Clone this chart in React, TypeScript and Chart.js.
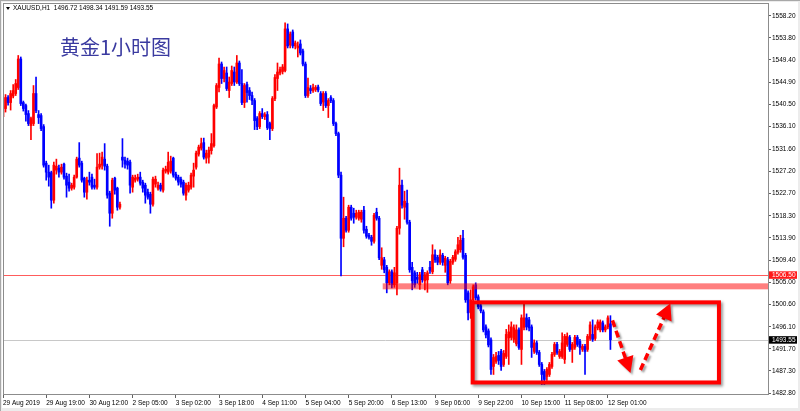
import React, { useEffect, useRef } from "react";
import { Chart, registerables } from "chart.js";

Chart.register(...registerables);

// ---- Candle data (XAUUSD H1) ----
const opens = [
  1538.1,1539.7,1541.9,1540.9,1542.2,1542.7,1543.9,1549.6,1540.9,1540.3,
  1538.7,1536.3,1536.7,1542.7,1538.5,1538.3,1536.1,1528.8,1527.0,1526.9,
  1521.4,1527.4,1527.8,1527.0,1528.6,1526.2,1525.0,1523.8,1524.0,1526.0,
  1529.8,1528.8,1525.8,1523.0,1525.4,1526.0,1524.4,1524.0,1528.0,1528.4,
  1529.6,1528.2,1522.8,1518.8,1525.8,1523.8,1520.0,1530.0,1529.4,1529.2,
  1529.0,1524.0,1525.4,1525.6,1526.0,1525.0,1524.4,1523.0,1522.6,1520.6,
  1524.6,1523.8,1524.4,1523.4,1527.2,1527.0,1527.2,1529.8,1526.6,1526.0,
  1525.6,1525.0,1522.4,1523.4,1524.0,1526.2,1528.0,1530.6,1531.8,1532.9,
  1529.8,1530.0,1531.3,1532.3,1540.0,1543.9,1548.6,1545.7,1546.8,1543.3,
  1544.7,1547.0,1545.0,1548.8,1544.7,1540.9,1544.5,1543.3,1542.3,1541.3,
  1537.7,1536.1,1538.7,1538.1,1538.5,1536.7,1535.7,1541.7,1545.7,1546.8,
  1547.1,1547.3,1555.6,1552.4,1555.0,1552.2,1551.8,1552.6,1551.2,1548.6,
  1542.3,1543.7,1543.3,1543.5,1544.0,1542.7,1541.0,1542.7,1540.3,1541.9,
  1541.3,1536.7,1534.7,1526.4,1513.8,1517.8,1515.4,1520.0,1518.8,1518.0,
  1517.8,1517.6,1519.4,1515.6,1514.4,1514.0,1513.2,1519.0,1517.8,1508.4,
  1509.5,1508.0,1504.9,1507.1,1504.5,1504.9,1515.8,1524.4,1520.0,1520.8,
  1517.0,1508.0,1506.9,1506.0,1504.5,1507.5,1505.3,1505.5,1508.0,1507.1,
  1510.5,1510.0,1509.0,1510.4,1508.4,1509.5,1505.3,1509.0,1509.6,1511.0,
  1511.5,1513.8,1510.4,1502.9,1499.0,1501.5,1504.5,1502.1,1500.3,1499.1,
  1496.1,1495.3,1493.5,1488.2,1489.2,1490.4,1491.2,1488.6,1490.2,1493.9,
  1494.0,1493.6,1492.7,1495.5,1491.6,1496.0,1497.9,1497.5,1496.1,1491.2,
  1492.9,1491.0,1488.6,1487.2,1486.2,1486.6,1488.2,1490.6,1492.6,1490.2,
  1490.2,1489.6,1492.6,1494.0,1491.6,1492.0,1494.0,1493.2,1491.6,1492.2,
  1491.6,1493.8,1494.6,1493.8,1495.9,1495.5,1496.9,1495.5,1496.1,1496.72,
];
const highs = [
  1540.6,1542.5,1542.3,1543.3,1544.5,1545.5,1550.3,1550.0,1541.2,1540.6,
  1539.3,1538.0,1544.3,1546.0,1539.3,1538.7,1536.5,1529.2,1528.4,1527.2,
  1529.0,1529.6,1528.4,1528.6,1528.8,1526.8,1526.6,1524.8,1526.4,1530.0,
  1532.9,1529.2,1526.0,1526.0,1527.0,1526.6,1525.6,1530.7,1530.8,1531.0,
  1532.7,1528.6,1523.2,1525.8,1526.0,1524.0,1521.0,1533.7,1530.0,1529.8,
  1529.4,1526.4,1526.4,1526.6,1527.0,1525.4,1524.8,1523.6,1523.0,1526.0,
  1526.2,1525.0,1524.8,1527.8,1528.2,1531.0,1530.2,1530.0,1527.0,1526.4,
  1526.0,1525.4,1524.8,1525.0,1526.8,1528.8,1531.2,1532.4,1533.8,1533.8,
  1531.4,1532.0,1534.7,1540.6,1544.7,1549.8,1549.0,1548.0,1548.0,1546.0,
  1548.2,1548.0,1550.3,1549.2,1547.5,1544.7,1545.0,1543.9,1543.0,1541.7,
  1538.1,1539.1,1539.7,1538.9,1539.1,1537.0,1542.1,1546.5,1548.8,1548.0,
  1548.5,1556.8,1556.6,1555.0,1555.4,1553.2,1553.0,1553.4,1551.6,1549.0,
  1545.8,1544.3,1544.6,1544.3,1544.4,1543.1,1543.1,1543.1,1541.7,1542.3,
  1541.7,1537.0,1535.0,1527.0,1522.0,1518.2,1520.4,1520.4,1519.8,1519.4,
  1519.4,1519.4,1520.2,1516.2,1514.8,1514.4,1518.8,1519.8,1518.2,1511.9,
  1510.0,1508.4,1507.5,1507.5,1508.0,1516.2,1527.8,1525.4,1523.2,1523.4,
  1517.4,1509.0,1507.3,1507.0,1507.0,1508.0,1507.0,1507.3,1509.2,1512.5,
  1511.5,1510.4,1511.5,1510.8,1510.2,1510.0,1509.6,1510.4,1511.5,1514.0,
  1514.4,1515.4,1510.8,1503.3,1503.5,1504.5,1504.9,1502.5,1500.7,1499.5,
  1496.5,1495.7,1493.9,1490.6,1491.0,1491.2,1491.6,1491.4,1495.6,1496.5,
  1497.1,1496.5,1496.5,1495.9,1498.5,1500.9,1498.7,1498.0,1496.5,1493.5,
  1493.3,1491.4,1489.0,1487.6,1488.0,1489.0,1491.0,1493.0,1493.0,1491.6,
  1494.9,1494.6,1494.9,1494.4,1493.0,1494.4,1494.4,1493.6,1492.6,1492.6,
  1494.6,1497.1,1497.5,1496.5,1497.5,1497.5,1497.3,1496.5,1498.3,1498.34,
];
const lows = [
  1537.6,1539.0,1540.4,1539.4,1541.8,1542.3,1543.5,1540.3,1539.2,1537.2,
  1536.3,1533.5,1536.3,1538.9,1536.7,1535.3,1528.0,1525.4,1524.2,1519.8,
  1520.8,1526.6,1526.0,1526.6,1525.6,1522.0,1523.2,1523.4,1523.6,1525.8,
  1528.0,1525.0,1522.0,1521.6,1524.4,1523.6,1523.6,1523.6,1527.6,1527.6,
  1527.4,1521.8,1516.2,1517.8,1522.6,1519.4,1519.6,1528.0,1527.8,1527.6,
  1522.8,1523.0,1525.0,1525.2,1524.4,1523.0,1520.8,1521.6,1518.8,1520.2,
  1524.0,1523.4,1523.2,1523.0,1526.8,1526.6,1526.8,1526.0,1525.4,1524.4,
  1524.0,1522.4,1521.4,1523.0,1523.6,1524.0,1527.6,1530.2,1531.4,1529.6,
  1528.8,1528.8,1530.6,1532.0,1539.7,1543.0,1544.7,1545.0,1543.3,1541.9,
  1544.3,1544.3,1544.7,1544.3,1540.5,1539.9,1541.0,1541.5,1540.5,1535.5,
  1535.5,1535.7,1537.7,1537.5,1535.5,1533.5,1535.3,1541.3,1543.3,1546.4,
  1546.6,1547.0,1551.8,1551.8,1551.8,1551.6,1550.0,1550.4,1548.2,1541.9,
  1541.9,1542.7,1542.9,1543.1,1543.0,1540.3,1539.3,1539.9,1537.9,1540.9,
  1536.3,1534.3,1525.9,1506.3,1512.1,1515.0,1515.0,1517.4,1516.8,1517.6,
  1517.4,1517.0,1514.8,1513.8,1513.6,1512.4,1512.8,1517.4,1509.5,1507.6,
  1506.9,1502.9,1504.5,1503.9,1504.0,1502.5,1514.6,1519.8,1517.6,1516.6,
  1507.0,1503.5,1504.0,1504.8,1503.6,1505.0,1503.5,1503.0,1506.8,1506.7,
  1509.0,1508.5,1508.6,1508.4,1507.0,1504.5,1504.8,1508.6,1509.2,1510.6,
  1511.0,1509.6,1501.0,1497.5,1497.8,1501.0,1501.5,1499.7,1498.9,1495.1,
  1493.9,1492.1,1486.6,1486.6,1488.8,1488.6,1487.4,1488.2,1489.8,1488.6,
  1493.5,1493.0,1492.3,1491.6,1488.6,1495.5,1495.5,1495.3,1490.0,1490.8,
  1490.6,1488.2,1484.6,1484.6,1485.4,1486.2,1487.8,1490.2,1490.6,1489.8,
  1489.8,1488.8,1492.2,1491.2,1489.0,1491.6,1492.2,1490.6,1491.2,1486.6,
  1491.2,1493.4,1493.2,1493.4,1495.5,1495.1,1495.1,1495.1,1495.7,1491.59,
];
const closes = [
  1540.2,1541.9,1540.9,1542.7,1543.3,1544.7,1549.6,1540.7,1539.7,1538.5,
  1536.7,1537.7,1542.7,1539.3,1537.9,1535.7,1528.4,1527.0,1526.0,1521.4,
  1528.4,1528.2,1527.0,1528.0,1526.0,1524.4,1523.8,1524.4,1526.0,1529.6,
  1528.4,1525.4,1523.0,1525.4,1525.0,1524.0,1524.0,1528.0,1528.6,1530.0,
  1528.2,1522.4,1518.8,1525.4,1523.4,1520.0,1520.6,1529.4,1528.6,1528.4,
  1524.4,1526.0,1525.8,1526.0,1524.8,1523.8,1522.4,1522.0,1520.6,1525.6,
  1525.6,1524.4,1523.6,1527.4,1527.6,1529.0,1529.2,1526.4,1525.8,1525.0,
  1524.6,1522.8,1524.4,1524.4,1526.4,1527.4,1530.8,1532.0,1532.7,1530.0,
  1530.8,1531.4,1532.7,1540.3,1544.3,1548.6,1545.7,1547.3,1543.7,1545.0,
  1547.3,1545.0,1548.8,1544.7,1540.9,1544.3,1542.9,1542.3,1541.3,1537.3,
  1536.1,1538.7,1538.1,1538.5,1535.9,1535.7,1541.7,1545.9,1547.0,1547.5,
  1548.0,1555.6,1552.2,1554.6,1552.2,1552.8,1552.2,1550.8,1548.6,1542.3,
  1543.9,1543.3,1543.9,1543.9,1543.4,1540.7,1542.7,1540.3,1541.3,1541.3,
  1536.7,1534.7,1526.4,1513.8,1517.8,1515.4,1520.0,1517.8,1518.0,1518.8,
  1519.0,1519.0,1515.4,1514.2,1514.0,1513.2,1518.4,1517.8,1509.9,1509.9,
  1507.5,1504.9,1507.1,1504.5,1506.9,1515.8,1524.4,1520.4,1521.2,1517.0,
  1507.5,1505.3,1504.5,1505.6,1506.5,1505.5,1506.5,1506.9,1507.4,1510.5,
  1509.5,1509.0,1510.5,1509.0,1509.8,1504.9,1509.2,1510.0,1511.1,1512.5,
  1513.4,1510.0,1501.5,1498.9,1501.5,1504.1,1501.9,1500.1,1499.3,1495.5,
  1494.5,1492.5,1487.6,1490.0,1490.2,1489.4,1488.2,1490.8,1494.6,1495.1,
  1496.1,1495.9,1495.5,1492.0,1497.9,1497.9,1496.1,1495.9,1492.0,1492.9,
  1491.0,1488.6,1486.6,1485.6,1487.6,1488.6,1490.6,1492.6,1491.0,1491.2,
  1492.9,1494.2,1494.2,1491.6,1492.6,1494.0,1492.6,1492.0,1492.2,1491.2,
  1494.2,1496.5,1493.6,1496.1,1497.1,1497.1,1495.5,1496.1,1497.9,1493.55,
];

// ---- Axes ----
const tickLabels = [
  "29 Aug 2019", "29 Aug 19:00", "30 Aug 12:00", "2 Sep 05:00", "3 Sep 02:00",
  "3 Sep 18:00", "4 Sep 11:00", "5 Sep 04:00", "5 Sep 20:00", "6 Sep 13:00",
  "9 Sep 06:00", "9 Sep 22:00", "10 Sep 15:00", "11 Sep 08:00", "12 Sep 01:00",
];
const labelStep = 17;
const slotCount = 302; // bars + empty chart shift on the right
const yTicks = [
  1558.2, 1553.8, 1549.4, 1544.9, 1540.5, 1536.1, 1531.6, 1527.2, 1522.7,
  1518.3, 1513.9, 1509.4, 1505.0, 1500.6, 1496.1, 1491.7, 1487.3, 1482.8,
];
const yRange = [1482.5, 1560.4];

// ---- Annotations (in bar index / price units) ----
const resistanceLine = 1506.5;
const bidPrice = closes[closes.length - 1];
const zonePrices = [1503.6, 1504.8];
const zoneStartBar = 149.4;
const boxBars = [184.8, 281.7];
const boxPrices = [1501.0, 1485.0];
const arrowDownBars = [239.8, 246.9];
const arrowDownPrices = [1497.4, 1486.9];
const arrowUpBars = [250.8, 262.6];
const arrowUpPrices = [1487.5, 1500.8];
const symbol = "XAUUSD,H1";
const title = "黄金1小时图";

const W = 800;
const H = 411;

export default function App() {
  const ref = useRef<HTMLCanvasElement>(null);

  useEffect(() => {
    const canvas = ref.current as HTMLCanvasElement;
    const bull = "#ff0000";
    const bear = "#0000ff";
    const colors = closes.map((c, i) => (c >= opens[i] ? bull : bear));
    const labels = Array.from({ length: slotCount }, (_, i) => String(i));
    const family = '"Liberation Sans", Arial, sans-serif';
    const small = { family, size: 6.5 };
    const isLabelled = (i: number) => i % labelStep === 0 && i / labelStep < tickLabels.length;

    const drawArrow = (c: CanvasRenderingContext2D, x1: number, y1: number, x2: number, y2: number) => {
      const dx = x2 - x1, dy = y2 - y1;
      const len = Math.hypot(dx, dy);
      const ux = dx / len, uy = dy / len;
      const head = 16, half = 8.5;
      const bx = x2 - ux * head, by = y2 - uy * head;
      c.save();
      c.shadowColor = "rgba(0,0,0,0.35)";
      c.shadowOffsetX = 2;
      c.shadowOffsetY = 2;
      c.shadowBlur = 2;
      c.strokeStyle = "#ff0000";
      c.fillStyle = "#ff0000";
      c.lineWidth = 3.5;
      c.setLineDash([7, 4]);
      c.beginPath();
      c.moveTo(x1, y1);
      c.lineTo(bx + ux * 2, by + uy * 2);
      c.stroke();
      c.setLineDash([]);
      c.beginPath();
      c.moveTo(x2, y2);
      c.lineTo(bx - uy * half, by + ux * half);
      c.lineTo(bx + uy * half, by - ux * half);
      c.closePath();
      c.fill();
      c.restore();
    };

    const overlay = {
      id: "overlay",
      beforeDraw(chart: any) {
        const c = chart.ctx as CanvasRenderingContext2D;
        c.save();
        c.fillStyle = "#ececec";
        c.fillRect(0, 0, W, H);
        c.fillStyle = "#ffffff";
        c.fillRect(2, 2, W - 4, H - 5);
        c.fillStyle = "#a8a8a8";
        c.fillRect(0, 0, W, 1);
        c.fillRect(0, 0, 1, H);
        c.restore();
      },
      beforeDatasetsDraw(chart: any) {
        const c = chart.ctx as CanvasRenderingContext2D;
        const a = chart.chartArea;
        const y = chart.scales.y;
        const hline = (v: number, color: string) => {
          const py = Math.round(y.getPixelForValue(v)) + 0.5;
          c.save();
          c.strokeStyle = color;
          c.lineWidth = 1;
          c.beginPath();
          c.moveTo(a.left, py);
          c.lineTo(a.right, py);
          c.stroke();
          c.restore();
        };
        hline(bidPrice, "#c8c8c8");
        hline(resistanceLine, "#ff5c5c");
      },
      afterDatasetsDraw(chart: any) {
        const c = chart.ctx as CanvasRenderingContext2D;
        const a = chart.chartArea;
        const x = chart.scales.x;
        const y = chart.scales.y;
        // support zone band
        const zx = x.getPixelForValue(zoneStartBar);
        const zy0 = y.getPixelForValue(zonePrices[1]);
        const zy1 = y.getPixelForValue(zonePrices[0]);
        c.save();
        c.fillStyle = "rgba(255,0,0,0.5)";
        c.fillRect(zx, zy0, a.right - zx, zy1 - zy0);
        c.restore();
        // range box
        const bx0 = x.getPixelForValue(boxBars[0]);
        const bx1 = x.getPixelForValue(boxBars[1]);
        const by0 = y.getPixelForValue(boxPrices[0]);
        const by1 = y.getPixelForValue(boxPrices[1]);
        c.save();
        c.shadowColor = "rgba(0,0,0,0.4)";
        c.shadowOffsetX = 2;
        c.shadowOffsetY = 2;
        c.shadowBlur = 3;
        c.strokeStyle = "#ff0000";
        c.lineWidth = 4;
        c.strokeRect(bx0, by0, bx1 - bx0, by1 - by0);
        c.restore();
        // arrows
        drawArrow(
          c,
          x.getPixelForValue(arrowDownBars[0]), y.getPixelForValue(arrowDownPrices[0]),
          x.getPixelForValue(arrowDownBars[1]), y.getPixelForValue(arrowDownPrices[1])
        );
        drawArrow(
          c,
          x.getPixelForValue(arrowUpBars[0]), y.getPixelForValue(arrowUpPrices[0]),
          x.getPixelForValue(arrowUpBars[1]), y.getPixelForValue(arrowUpPrices[1])
        );
      },
      afterDraw(chart: any) {
        const c = chart.ctx as CanvasRenderingContext2D;
        const a = chart.chartArea;
        const y = chart.scales.y;
        c.save();
        // frame
        c.strokeStyle = "#8c8c8c";
        c.lineWidth = 1;
        c.strokeRect(Math.floor(a.left) + 0.5, Math.floor(a.top) - 0.5, Math.round(a.right - a.left), Math.round(a.bottom - a.top) + 1);
        // price tags on the axis
        const tag = (v: number, bg: string) => {
          const py = y.getPixelForValue(v);
          c.fillStyle = bg;
          c.fillRect(a.right + 1, py - 3.5, 28, 7.5);
          c.fillStyle = "#ffffff";
          c.font = `6.5px ${family}`;
          c.textAlign = "left";
          c.textBaseline = "middle";
          c.fillText(v.toFixed(2), a.right + 4, py + 0.3);
        };
        tag(resistanceLine, "#ff1a1a");
        tag(bidPrice, "#000000");
        // header
        c.fillStyle = "#000000";
        c.beginPath();
        c.moveTo(6, 7);
        c.lineTo(10, 7);
        c.lineTo(8, 10);
        c.closePath();
        c.fill();
        const last = closes.length - 1;
        const ohlc = [opens[last], highs[last], lows[last], closes[last]].map((v) => v.toFixed(2)).join(" ");
        c.font = `6.5px ${family}`;
        c.textAlign = "left";
        c.textBaseline = "middle";
        c.fillText(`${symbol}  ${ohlc}`, 13, 8.5);
        // title
        c.fillStyle = "#3a3aa0";
        c.font = '20px "Noto Sans CJK SC"';
        c.textBaseline = "alphabetic";
        c.fillText(title, 60, 55);
        c.restore();
      },
    };

    const chart = new Chart(canvas, {
      type: "bar",
      data: {
        labels,
        datasets: [
          {
            label: "wick",
            data: lows.map((l, i) => [l, highs[i]]) as any,
            backgroundColor: colors,
            borderWidth: 0,
            barThickness: 1,
            grouped: false,
            order: 2,
          } as any,
          {
            label: "body",
            data: opens.map((o, i) => [o, closes[i]]) as any,
            backgroundColor: colors,
            borderWidth: 0,
            barThickness: 2,
            minBarLength: 1,
            grouped: false,
            order: 1,
          } as any,
        ],
      },
      options: {
        responsive: false,
        animation: false,
        devicePixelRatio: 1,
        events: [],
        layout: { padding: { left: 3, top: 4, right: 0, bottom: 0 } },
        plugins: { legend: { display: false }, tooltip: { enabled: false } },
        scales: {
          x: {
            type: "category",
            offset: false,
            border: { display: false },
            grid: {
              display: true,
              offset: false,
              drawOnChartArea: false,
              drawTicks: true,
              tickLength: 3,
              tickColor: (ctx: any) => (isLabelled(ctx.index) ? "#606060" : "rgba(0,0,0,0)"),
            },
            ticks: {
              autoSkip: false,
              maxRotation: 0,
              minRotation: 0,
              align: "start",
              padding: 1,
              color: "#000000",
              font: small,
              callback: (_v: any, i: number) => (isLabelled(i) ? tickLabels[i / labelStep] : ""),
            },
            afterFit: (s: any) => {
              s.height = 16;
            },
          } as any,
          y: {
            type: "linear",
            position: "right",
            min: yRange[0],
            max: yRange[1],
            border: { display: false },
            grid: { drawOnChartArea: false, drawTicks: true, tickLength: 3, tickColor: "#606060" },
            ticks: {
              padding: 1,
              color: "#000000",
              font: small,
              callback: (v: any) => Number(v).toFixed(2),
            },
            afterBuildTicks: (s: any) => {
              s.ticks = yTicks.map((v) => ({ value: v }));
            },
            afterFit: (s: any) => {
              s.width = 32;
            },
          } as any,
        },
      },
      plugins: [overlay as any],
    });

    return () => chart.destroy();
  }, []);

  return (
    <div style={{ position: "absolute", left: 0, top: 0, width: W, height: H }}>
      <canvas ref={ref} width={W} height={H} style={{ display: "block", width: W, height: H }} />
    </div>
  );
}
